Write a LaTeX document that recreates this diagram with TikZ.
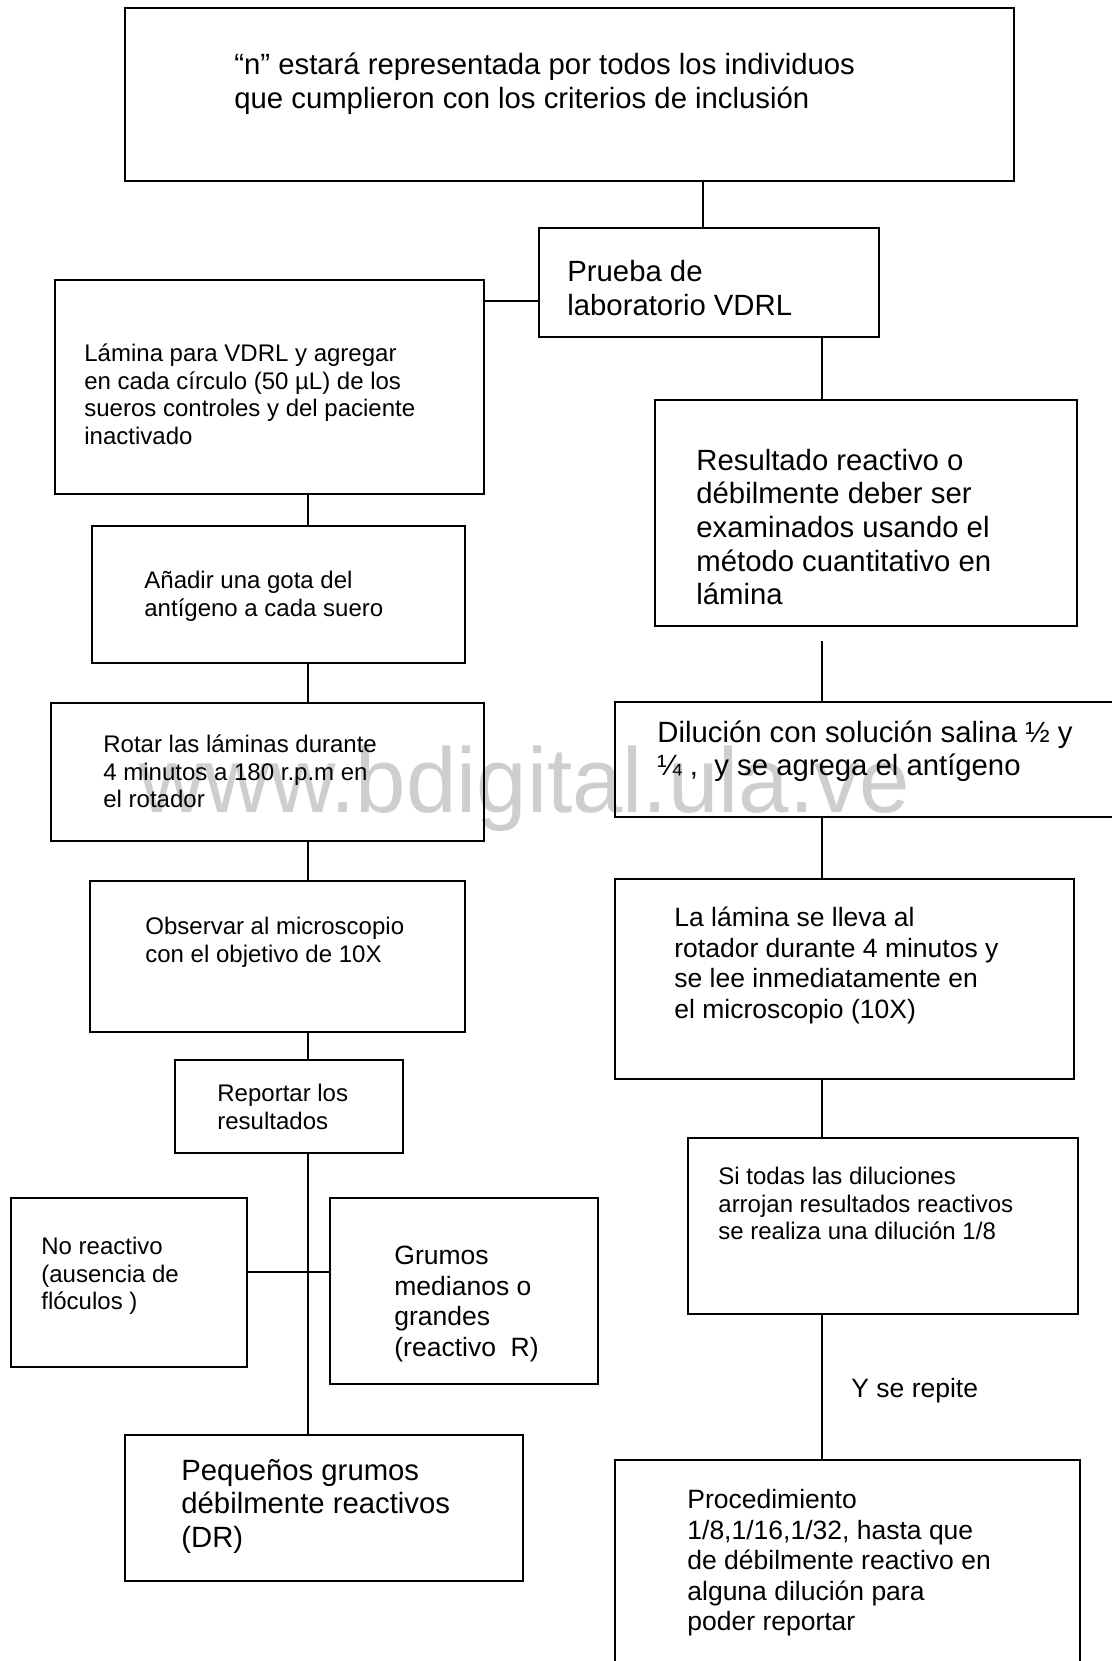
\documentclass[tikz,border=0pt]{standalone}
\usepackage{fontspec}
\setmainfont{Liberation Sans}
\usetikzlibrary{fit}
\definecolor{wmgray}{RGB}{206,206,206}
\newcommand\fS{\fontsize{12}{13.8}\selectfont}
\newcommand\fM{\fontsize{13.25}{15.25}\selectfont}
\newcommand\fL{\fontsize{14.65}{16.85}\selectfont}
\tikzset{
  boxnode/.style={draw=black, line width=1.1pt, inner sep=0pt, rectangle},
  conn/.style={draw=black, line width=0.8pt},
  txt/.style={inner sep=0pt, anchor=north west, align=left},
  txtS/.style={txt, font=\fS},
  txtM/.style={txt, font=\fM},
  txtL/.style={txt, font=\fL},
  wmark/.style={inner sep=0pt, anchor=base west, text=wmgray, font=\fontsize{46}{52}\selectfont}
}
\begin{document}
\begin{tikzpicture}[x=0.5pt, y=-0.5pt]
\useasboundingbox (0,0) rectangle (1112,1661);
\clip (0,0) rectangle (1112,1661);
\fill[white] (0,0) rectangle (1112,1661);

% watermark
\node[wmark] (wm) at (139,812) {\scalebox{0.985}[1]{www.bdigital.ula.ve}};

% boxes
\node[boxnode, fit={(125,8) (1014,181)}] (top) {};
\node[boxnode, fit={(539,228) (879,337)}] (prueba) {};
\node[boxnode, fit={(55,280) (484,494)}] (lamina) {};
\node[boxnode, fit={(92,526) (465,663)}] (anadir) {};
\node[boxnode, fit={(51,703) (484,841)}] (rotar) {};
\node[boxnode, fit={(90,881) (465,1032)}] (observar) {};
\node[boxnode, fit={(175,1060) (403,1153)}] (reportar) {};
\node[boxnode, fit={(11,1198) (247,1367)}] (noreac) {};
\node[boxnode, fit={(330,1198) (598,1384)}] (grumos) {};
\node[boxnode, fit={(125,1435) (523,1581)}] (pequenos) {};
\node[boxnode, fit={(655,400) (1077,626)}] (resultado) {};
\node[boxnode, fit={(615,702) (1130,817)}] (dilucion) {};
\node[boxnode, fit={(615,879) (1074,1079)}] (lalamina) {};
\node[boxnode, fit={(688,1138) (1078,1314)}] (sitodas) {};
\node[boxnode, fit={(615,1460) (1080,1700)}] (proced) {};

% texts
\node[txtL] (ttop) at (234,51) {\strut “n” estará representada por todos los individuos\\que cumplieron con los criterios de inclusión};
\node[txtL] (tprueba) at (567,258) {\strut Prueba de\\laboratorio VDRL};
\node[txtS] (tlamina) at (84,342) {\strut Lámina para VDRL y agregar\\en cada círculo (50 µL) de los\\sueros controles y del paciente\\inactivado};
\node[txtS] (tanadir) at (144,569) {\strut Añadir una gota del\\antígeno a cada suero};
\node[txtS] (trotar) at (103,733) {\strut Rotar las láminas durante\\4 minutos a 180 r.p.m en\\el rotador};
\node[txtS] (tobservar) at (145,915) {\strut Observar al microscopio\\con el objetivo de 10X};
\node[txtS] (treportar) at (217,1082) {\strut Reportar los\\resultados};
\node[txtS] (tnoreac) at (41,1235) {\strut No reactivo\\(ausencia de\\flóculos )};
\node[txtM] (tgrumos) at (394,1243) {\strut Grumos\\medianos o\\grandes\\(reactivo\ \ R)};
\node[txtL] (tpequenos) at (181,1456) {\strut Pequeños grumos\\débilmente reactivos\\(DR)};
\node[txtL] (tresultado) at (696,446) {\strut Resultado reactivo o\\débilmente deber ser\\examinados usando el\\método cuantitativo en\\lámina};
\node[txtL] (tdilucion) at (657,718) {\strut Dilución con solución salina ½ y\\¼ ,\ \ y se agrega el antígeno};
\node[txtM] (tlalamina) at (674,905) {\strut La lámina se lleva al\\rotador durante 4 minutos y\\se lee inmediatamente en\\el microscopio (10X)};
\node[txtS] (tsitodas) at (718,1165) {\strut Si todas las diluciones\\arrojan resultados reactivos\\se realiza una dilución 1/8};
\node[txtM] (tyse) at (851,1376) {\strut Y se repite};
\node[txtM] (tproced) at (687,1487) {\strut Procedimiento\\1/8,1/16,1/32, hasta que\\de débilmente reactivo en\\alguna dilución para\\poder reportar};

% connector guide coordinates
\coordinate (xTop) at (703,0);
\coordinate (yPL) at (0,301);
\coordinate (xR) at (822,0);
\coordinate (xL) at (308,0);
\coordinate (yNG) at (0,1272);
\coordinate (resGap) at (822,641);

% connectors
\draw[conn] (top.south -| xTop) -- (prueba.north -| xTop);
\draw[conn] (prueba.west |- yPL) -- (lamina.east |- yPL);
\draw[conn] (prueba.south -| xR) -- (resultado.north -| xR);
\draw[conn] (resGap) -- (dilucion.north -| resGap);
\draw[conn] (dilucion.south -| xR) -- (lalamina.north -| xR);
\draw[conn] (lalamina.south -| xR) -- (sitodas.north -| xR);
\draw[conn] (sitodas.south -| xR) -- (proced.north -| xR);
\draw[conn] (lamina.south -| xL) -- (anadir.north -| xL);
\draw[conn] (anadir.south -| xL) -- (rotar.north -| xL);
\draw[conn] (rotar.south -| xL) -- (observar.north -| xL);
\draw[conn] (observar.south -| xL) -- (reportar.north -| xL);
\draw[conn] (reportar.south -| xL) -- (pequenos.north -| xL);
\draw[conn] (noreac.east |- yNG) -- (grumos.west |- yNG);
\end{tikzpicture}
\end{document}
